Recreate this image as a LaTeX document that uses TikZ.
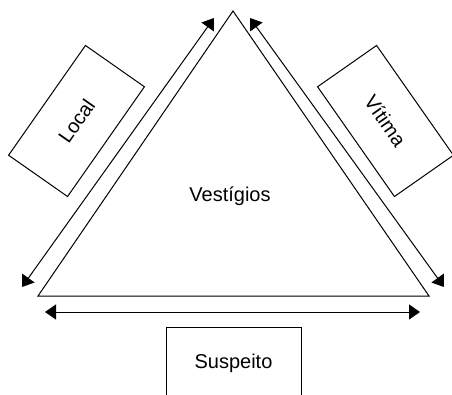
\documentclass[tikz,border=0pt]{standalone}
\usepackage{fontspec}
\setmainfont{Liberation Sans}
\usetikzlibrary{arrows.meta}
\tikzset{
  box/.style={draw, line width=1pt, minimum width=134pt, minimum height=72pt, inner sep=0pt, font=\fontsize{20}{22}\selectfont},
  dblarrow/.style={line width=1pt, {Triangle[length=11pt,width=15pt]}-{Triangle[length=11pt,width=15pt]}},
  label/.style={font=\fontsize{20}{22}\selectfont}
}
\begin{document}
\begin{tikzpicture}[x=1pt,y=-1pt]
\useasboundingbox (0,0) rectangle (452,395);
% triangle
\coordinate (apex) at (233,11);
\coordinate (bl) at (38,296);
\coordinate (br) at (429,296);
\draw[line width=1pt, line join=miter] (apex) -- (br) -- (bl) -- cycle;
\node[label] (vest) at (230,196) {Vestígios};
% boxes
\node[box, rotate=55] (local) at (76.5,121) {Local};
\node[box, rotate=-55] (vitima) at (385.5,121) {Vítima};
\node[box, minimum width=135pt] (susp) at (233.5,363) {Suspeito};
% arrows
\coordinate (la) at (22,287);
\coordinate (lb) at (214,18);
\coordinate (ra) at (250,18);
\coordinate (rb) at (444,287);
\coordinate (ba) at (45,312);
\coordinate (bb) at (420,312);
\draw[dblarrow] (la) -- (lb);
\draw[dblarrow] (ra) -- (rb);
\draw[dblarrow] (ba) -- (bb);
\end{tikzpicture}
\end{document}
